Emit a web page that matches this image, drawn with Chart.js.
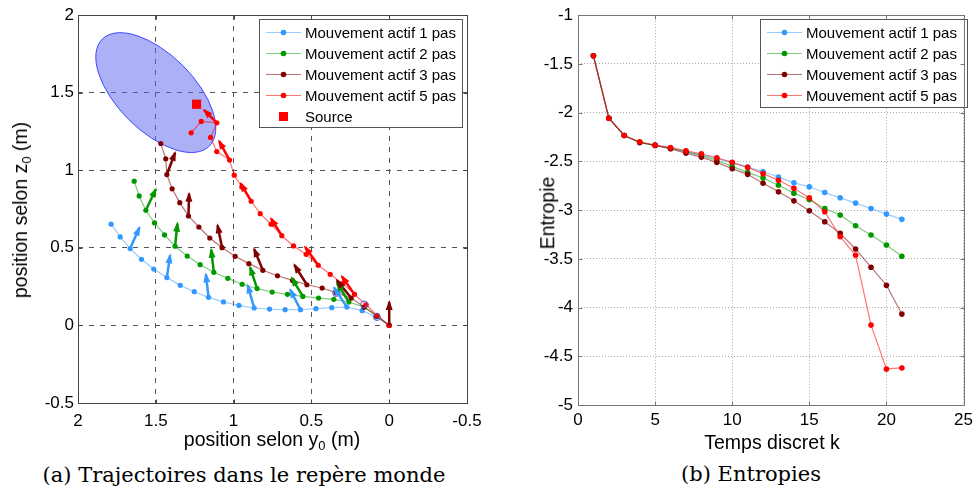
<!DOCTYPE html>
<html>
<head>
<meta charset="utf-8">
<script src="https://cdn.jsdelivr.net/npm/chart.js@4.4.0/dist/chart.umd.min.js"></script>
<style>
    body { margin: 0; background: #fff; width: 978px; height: 495px; position: relative; overflow: hidden;
           font-family: "Liberation Sans", Arial, sans-serif; }
    canvas { position: absolute; top: 0; }
    .ttl { position: absolute; font-size: 19.5px; line-height: 1; color: #000; white-space: nowrap; }
    .ttl sub { font-size: 13px; vertical-align: -4px; }
    .cap { position: absolute; font-family: "DejaVu Serif", serif; font-size: 21px; line-height: 1;
           white-space: nowrap; transform: translate(-50%, -50%); }
</style>
</head>
<body>
<canvas id="trajChart" width="489" height="440" style="left:0"></canvas>
<canvas id="entChart" width="489" height="440" style="left:489px"></canvas>

<div class="ttl" style="left:272px;top:441px;transform:translate(-50%,-50%)">position selon y<sub>0</sub> (m)</div>
<div class="ttl" style="left:22px;top:210px;transform:translate(-50%,-50%) rotate(-90deg)">position selon z<sub>0</sub> (m)</div>
<div class="ttl" style="left:772px;top:443px;transform:translate(-50%,-50%)">Temps discret k</div>
<div class="ttl" style="left:548px;top:213px;transform:translate(-50%,-50%) rotate(-90deg)">Entropie</div>
<div class="cap" style="left:244px;top:475px">(a) Trajectoires dans le repère monde</div>
<div class="cap" style="left:751px;top:474px">(b) Entropies</div>

<script>
// ---- (a) trajectoires : position (y0, z0) en m, depuis l'origine ----
const traj1Y = [0, 0.084, 0.174, 0.272, 0.369, 0.471, 0.570, 0.669, 0.769, 0.868, 0.966, 1.065, 1.161, 1.253, 1.343, 1.429, 1.513, 1.592, 1.665, 1.729, 1.787];
const traj1Z = [0, 0.054, 0.095, 0.118, 0.114, 0.108, 0.101, 0.101, 0.105, 0.112, 0.129, 0.151, 0.181, 0.217, 0.258, 0.308, 0.363, 0.426, 0.495, 0.570, 0.652];
const traj2Y = [0, 0.079, 0.161, 0.259, 0.356, 0.454, 0.555, 0.654, 0.752, 0.849, 0.945, 1.037, 1.127, 1.215, 1.298, 1.376, 1.444, 1.508, 1.564, 1.607, 1.639];
const traj2Z = [0, 0.060, 0.118, 0.151, 0.168, 0.176, 0.187, 0.200, 0.215, 0.237, 0.265, 0.303, 0.342, 0.391, 0.447, 0.510, 0.583, 0.660, 0.742, 0.834, 0.929];
const traj3Y = [0, 0.079, 0.161, 0.244, 0.341, 0.431, 0.529, 0.621, 0.718, 0.812, 0.902, 0.990, 1.074, 1.153, 1.223, 1.290, 1.346, 1.395, 1.429, 1.436, 1.468];
const traj3Z = [0, 0.060, 0.118, 0.176, 0.211, 0.241, 0.262, 0.290, 0.320, 0.355, 0.398, 0.445, 0.501, 0.563, 0.634, 0.705, 0.791, 0.880, 0.972, 1.073, 1.172];
const traj5Y = [0, 0.079, 0.148, 0.223, 0.298, 0.379, 0.456, 0.534, 0.615, 0.690, 0.759, 0.829, 0.887, 0.947, 0.996, 1.026, 1.108, 1.148, 1.108, 1.208, 1.273];
const traj5Z = [0, 0.065, 0.133, 0.200, 0.269, 0.329, 0.387, 0.458, 0.512, 0.578, 0.652, 0.720, 0.800, 0.892, 0.968, 1.065, 1.120, 1.211, 1.305, 1.314, 1.241];

// orientation du capteur (fleches) : indice du point de depart et extremite
const arrowIdx = [3, 6, 9, 12, 15, 18];
const tip1Y = [0.354, 0.636, 0.909, 1.178, 1.408, 1.605];
const tip1Z = [0.243, 0.230, 0.258, 0.329, 0.452, 0.630];
const tip2Y = [0.336, 0.626, 0.894, 1.144, 1.361, 1.500];
const tip2Z = [0.273, 0.305, 0.374, 0.488, 0.656, 0.877];
const arrowIdx3 = [0, 3, 6, 9, 12, 15, 18];
const tip3Y = [0, 0.336, 0.609, 0.868, 1.103, 1.286, 1.376];
const tip3Z = [0.151, 0.290, 0.389, 0.492, 0.645, 0.849, 1.112];
const tip5Y = [0.304, 0.540, 0.759, 0.954, 1.093, 1.189];
const tip5Z = [0.316, 0.505, 0.688, 0.914, 1.187, 1.387];

const sourcePos = [1.238, 1.425];
const markY = [0.341, 0.161, 0.079];
const markZ = [0.209, 0.135, 0.054];

// ellipse d'incertitude sur la source
const ellipseCenter = [1.5, 1.5];
const ellipseAxes = [0.487, 0.246];
const ellipseAngle = 45;

const trajTicks = [-0.5, 0, 0.5, 1, 1.5, 2];

// ---- (b) entropies ----
const kSteps = [1, 2, 3, 4, 5, 6, 7, 8, 9, 10, 11, 12, 13, 14, 15, 16, 17, 18, 19, 20, 21];
const ent1 = [-1.416, -2.057, -2.234, -2.306, -2.335, -2.365, -2.400, -2.435, -2.470, -2.515, -2.558, -2.606, -2.660, -2.720, -2.760, -2.820, -2.874, -2.928, -2.983, -3.041, -3.095];
const ent2 = [-1.416, -2.057, -2.234, -2.305, -2.335, -2.365, -2.400, -2.438, -2.490, -2.551, -2.613, -2.671, -2.745, -2.826, -2.894, -2.983, -3.051, -3.160, -3.256, -3.358, -3.474];
const ent3 = [-1.416, -2.057, -2.234, -2.306, -2.336, -2.371, -2.415, -2.456, -2.510, -2.575, -2.633, -2.724, -2.812, -2.905, -3.007, -3.119, -3.239, -3.399, -3.586, -3.771, -4.067];
const ent5 = [-1.416, -2.057, -2.234, -2.299, -2.333, -2.357, -2.391, -2.422, -2.463, -2.510, -2.562, -2.626, -2.694, -2.776, -2.875, -3.017, -3.273, -3.464, -4.180, -4.630, -4.620];

const seriesLabels = ['Mouvement actif 1 pas', 'Mouvement actif 2 pas', 'Mouvement actif 3 pas', 'Mouvement actif 5 pas'];
const seriesColors = ['#3399ff', '#009900', '#800000', '#ff0000'];
const seriesLines = ['rgba(51,153,255,0.5)', 'rgba(0,153,0,0.5)', 'rgba(128,0,0,0.55)', 'rgba(255,0,0,0.55)'];

Chart.defaults.font.family = '"Liberation Sans", Arial, sans-serif';
Chart.defaults.color = '#000';

const pts = (xs, ys) => xs.map((v, i) => ({ x: v, y: ys[i] }));

// box around the plot with inward tick marks on all sides
const framePlugin = {
    id: 'frame',
    afterDraw(chart, args, opts) {
        const { ctx, chartArea: a, scales: { x, y } } = chart;
        const L = Math.round(a.left) + 0.5, R = Math.round(a.right) + 0.5;
        const T = Math.round(a.top) + 0.5, B = Math.round(a.bottom) + 0.5;
        ctx.save();
        ctx.strokeStyle = opts.color;
        ctx.lineWidth = 1;
        ctx.strokeRect(L, T, R - L, B - T);
        ctx.beginPath();
        x.ticks.forEach(t => {
            const p = Math.round(x.getPixelForValue(t.value)) + 0.5;
            ctx.moveTo(p, B); ctx.lineTo(p, B - opts.len);
            ctx.moveTo(p, T); ctx.lineTo(p, T + opts.len);
        });
        y.ticks.forEach(t => {
            const p = Math.round(y.getPixelForValue(t.value)) + 0.5;
            ctx.moveTo(L, p); ctx.lineTo(L + opts.len, p);
            ctx.moveTo(R, p); ctx.lineTo(R - opts.len, p);
        });
        ctx.stroke();
        ctx.restore();
    }
};

// uncertainty ellipse, placed through the scales
const ellipsePlugin = {
    id: 'ellipse',
    beforeDatasetsDraw(chart, args, o) {
        const { ctx, scales: { x, y } } = chart;
        const t = o.angle * Math.PI / 180;
        const cx = x.getPixelForValue(o.center[0]), cy = y.getPixelForValue(o.center[1]);
        const ax = x.getPixelForValue(o.center[0] + o.axes[0] * Math.cos(t)) - cx;
        const ay = y.getPixelForValue(o.center[1] + o.axes[0] * Math.sin(t)) - cy;
        const bx = x.getPixelForValue(o.center[0] - o.axes[1] * Math.sin(t)) - cx;
        const by = y.getPixelForValue(o.center[1] + o.axes[1] * Math.cos(t)) - cy;
        ctx.save();
        ctx.beginPath();
        ctx.ellipse(cx, cy, Math.hypot(ax, ay), Math.hypot(bx, by), Math.atan2(ay, ax), 0, 2 * Math.PI);
        ctx.fillStyle = o.fill;
        ctx.fill();
        ctx.strokeStyle = o.stroke;
        ctx.lineWidth = 1;
        ctx.stroke();
        ctx.restore();
    }
};

// arrow heads at the second point of every arrow dataset
const arrowHeads = {
    id: 'arrowHeads',
    afterDatasetsDraw(chart) {
        const ctx = chart.ctx;
        chart.data.datasets.forEach((ds, i) => {
            if (!ds.arrow) return;
            const [p0, p1] = chart.getDatasetMeta(i).data;
            const ang = Math.atan2(p1.y - p0.y, p1.x - p0.x);
            const len = 8, half = 3.5;
            ctx.save();
            ctx.translate(p1.x, p1.y);
            ctx.rotate(ang);
            ctx.beginPath();
            ctx.moveTo(2, 0);
            ctx.lineTo(-len, half);
            ctx.lineTo(-len, -half);
            ctx.closePath();
            ctx.fillStyle = ds.borderColor;
            ctx.fill();
            ctx.restore();
        });
    }
};

// legend box drawn inside the plot, top right
const boxLegend = {
    id: 'boxLegend',
    afterDatasetsDraw(chart, args, o) {
        const ctx = chart.ctx;
        ctx.save();
        ctx.fillStyle = '#fff';
        ctx.fillRect(o.x, o.y, o.w, o.h);
        ctx.strokeStyle = o.border;
        ctx.lineWidth = 1;
        ctx.strokeRect(o.x + 0.5, o.y + 0.5, o.w, o.h);
        ctx.font = '15px "Liberation Sans", Arial, sans-serif';
        ctx.textBaseline = 'middle';
        o.items.forEach((di, i) => {
            const ds = chart.data.datasets[di];
            const cy = o.y + 13.5 + i * 21;
            if (ds.showLine !== false) {
                ctx.strokeStyle = ds.borderColor;
                ctx.beginPath();
                ctx.moveTo(o.x + 7, cy);
                ctx.lineTo(o.x + 42, cy);
                ctx.stroke();
            }
            ctx.fillStyle = ds.pointBackgroundColor;
            ctx.beginPath();
            if (ds.pointStyle === 'rect') {
                ctx.rect(o.x + 20, cy - 4.5, 9, 9);
            } else {
                ctx.arc(o.x + 24.5, cy, 2.8, 0, 2 * Math.PI);
            }
            ctx.fill();
            ctx.fillStyle = '#000';
            ctx.fillText(ds.label, o.x + 46, cy + 1);
        });
        ctx.restore();
    }
};

const tickFmt = v => String(Number(v.toFixed(2)));

// ---------- chart (a) ----------
const trajSets = [[traj1Y, traj1Z], [traj2Y, traj2Z], [traj3Y, traj3Z], [traj5Y, traj5Z]];
const arrowSets = [
    [arrowIdx, tip1Y, tip1Z],
    [arrowIdx, tip2Y, tip2Z],
    [arrowIdx, tip5Y, tip5Z],
    [arrowIdx3, tip3Y, tip3Z]
];
const arrowSeries = [0, 1, 3, 2];

const trajDatasets = [];
trajSets.forEach(([ys, zs], s) => {
    trajDatasets.push({
        label: seriesLabels[s],
        data: pts(ys, zs),
        showLine: true,
        borderColor: seriesLines[s],
        borderWidth: 1.2,
        pointRadius: 2.6,
        pointBackgroundColor: seriesColors[s],
        pointBorderWidth: 0
    });
});
trajDatasets.push({
    label: 'marks',
    data: pts(markY, markZ),
    showLine: false,
    pointRadius: 3.5,
    pointBackgroundColor: 'rgba(0,0,0,0)',
    pointBorderColor: '#5a5ad0',
    pointBorderWidth: 1
});
arrowSets.forEach(([idx, ty, tz], j) => {
    const s = arrowSeries[j];
    const [ys, zs] = trajSets[s];
    idx.forEach((k, n) => {
        trajDatasets.push({
            arrow: true,
            data: [{ x: ys[k], y: zs[k] }, { x: ty[n], y: tz[n] }],
            showLine: true,
            borderColor: seriesColors[s],
            borderWidth: 2.5,
            pointRadius: 0
        });
    });
});
trajDatasets.push({
    label: 'Source',
    data: [{ x: sourcePos[0], y: sourcePos[1] }],
    showLine: false,
    pointStyle: 'rect',
    pointRadius: 6.5,
    pointBackgroundColor: '#ff0000',
    pointBorderWidth: 0
});
const sourceIndex = trajDatasets.length - 1;
trajDatasets.forEach((d, i) => { d.order = trajDatasets.length - i; });

new Chart(document.getElementById('trajChart'), {
    type: 'scatter',
    data: { datasets: trajDatasets },
    plugins: [ellipsePlugin, arrowHeads, boxLegend, framePlugin],
    options: {
        responsive: false,
        animation: false,
        layout: { padding: { left: 0, right: 22, top: 15, bottom: 0 } },
        plugins: {
            legend: { display: false },
            tooltip: { enabled: false },
            ellipse: { center: ellipseCenter, axes: ellipseAxes, angle: ellipseAngle,
                       fill: 'rgba(90,100,240,0.5)', stroke: '#3a46ff' },
            boxLegend: { x: 259, y: 19, w: 203, h: 108, border: '#555', items: [0, 1, 2, 3, sourceIndex] },
            frame: { color: '#444', len: 4 }
        },
        scales: {
            x: {
                type: 'linear', reverse: true, min: -0.5, max: 2,
                afterBuildTicks: s => { s.ticks = trajTicks.map(v => ({ value: v })); },
                afterFit: s => { s.height = 37; },
                grid: { color: '#555', drawTicks: false },
                border: { display: false, dash: [5, 6] },
                ticks: { font: { size: 17 }, padding: 8, callback: tickFmt, maxRotation: 0 }
            },
            y: {
                type: 'linear', min: -0.5, max: 2,
                afterBuildTicks: s => { s.ticks = trajTicks.map(v => ({ value: v })); },
                afterFit: s => { s.width = 78; },
                grid: { color: '#555', drawTicks: false },
                border: { display: false, dash: [5, 6] },
                ticks: { font: { size: 17 }, padding: 4, callback: tickFmt }
            }
        }
    }
});

// ---------- chart (b) ----------
const entSeries = [ent1, ent2, ent3, ent5];
const entDatasets = entSeries.map((vals, s) => ({
    label: seriesLabels[s],
    data: pts(kSteps, vals),
    showLine: true,
    borderColor: seriesLines[s],
    borderWidth: 1.2,
    pointRadius: 2.8,
    pointBackgroundColor: seriesColors[s],
    pointBorderWidth: 0,
    order: 4 - s
}));

new Chart(document.getElementById('entChart'), {
    type: 'scatter',
    data: { datasets: entDatasets },
    plugins: [boxLegend, framePlugin],
    options: {
        responsive: false,
        animation: false,
        layout: { padding: { left: 0, right: 11, top: 15, bottom: 0 } },
        plugins: {
            legend: { display: false },
            tooltip: { enabled: false },
            boxLegend: { x: 271, y: 19, w: 207, h: 88, border: '#555', items: [0, 1, 2, 3] },
            frame: { color: '#777', len: 4 }
        },
        scales: {
            x: {
                type: 'linear', min: 0, max: 25,
                ticks: { stepSize: 5, font: { size: 17 }, padding: 5, callback: tickFmt, maxRotation: 0 },
                afterFit: s => { s.height = 35; },
                grid: { color: '#aaa', drawTicks: false },
                border: { display: false, dash: [1, 2] }
            },
            y: {
                type: 'linear', min: -5, max: -1,
                ticks: { stepSize: 0.5, font: { size: 17 }, padding: 5, callback: tickFmt },
                afterFit: s => { s.width = 89; },
                grid: { color: '#aaa', drawTicks: false },
                border: { display: false, dash: [1, 2] }
            }
        }
    }
});
</script>
</body>
</html>
